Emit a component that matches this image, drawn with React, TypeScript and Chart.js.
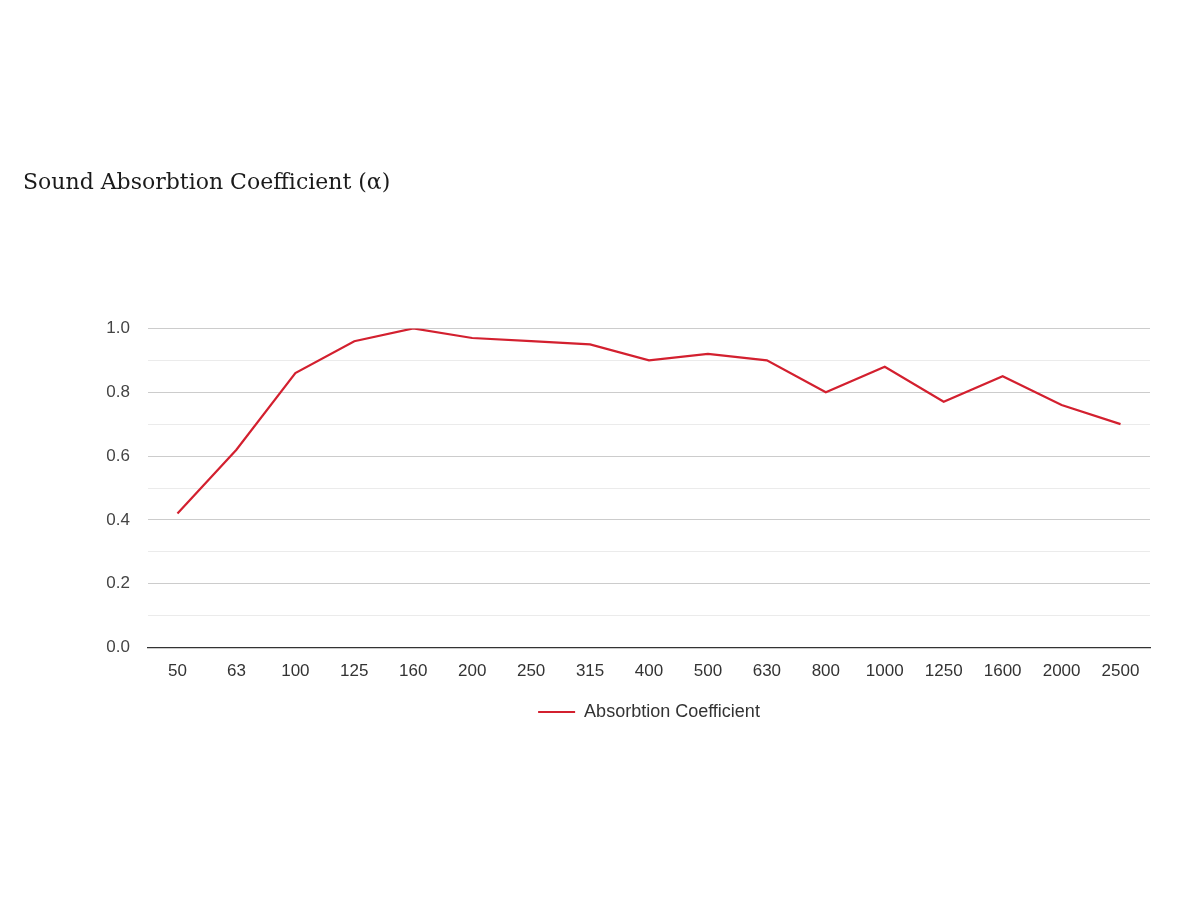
import React, { useEffect, useRef } from "react";
import { Chart, registerables } from "chart.js";

Chart.register(...registerables);

const TITLE = "Sound Absorbtion Coefficient (α)";
const SERIES_LABEL = "Absorbtion Coefficient";
const FREQUENCIES = ["50", "63", "100", "125", "160", "200", "250", "315", "400", "500", "630", "800", "1000", "1250", "1600", "2000", "2500"];
const ABSORPTION = [0.42, 0.62, 0.86, 0.96, 1.0, 0.97, 0.96, 0.95, 0.9, 0.92, 0.9, 0.8, 0.88, 0.77, 0.85, 0.76, 0.7];
const Y_MIN = 0;
const Y_MAX = 1;
const Y_STEP = 0.1;

export default function App() {
  const ref = useRef<HTMLCanvasElement | null>(null);
  useEffect(() => {
    if (!ref.current) return;
    const chart = new Chart(ref.current, {
      type: "line",
      data: {
        labels: FREQUENCIES,
        datasets: [
          {
            label: SERIES_LABEL,
            data: ABSORPTION,
            borderColor: "#d3202f",
            backgroundColor: "#d3202f",
            borderWidth: 2.2,
            pointRadius: 0,
            pointHoverRadius: 0,
            tension: 0,
            pointStyle: "line",
          },
        ],
      },
      options: {
        responsive: false,
        animation: false,
        layout: { padding: { left: 23, right: 50, top: 0, bottom: 169 } },
        plugins: {
          title: {
            display: true,
            text: TITLE,
            align: "start",
            color: "#1a1a1a",
            font: { family: "'DejaVu Serif', 'Liberation Serif', serif", size: 22, weight: "normal" },
            padding: { top: 170, bottom: 132 },
          },
          legend: {
            position: "bottom",
            fullSize: false,
            labels: {
              usePointStyle: true,
              pointStyleWidth: 37,
              color: "#333",
              font: { family: "Liberation Sans", size: 18 },
              padding: 15,
            },
          },
          tooltip: { enabled: false },
        },
        scales: {
          x: {
            offset: true,
            grid: { display: false, offset: true },
            border: { display: true, color: "#333", width: 1.2 },
            ticks: { color: "#333", font: { family: "Liberation Sans", size: 17 }, padding: 6, maxRotation: 0 },
          },
          y: {
            min: Y_MIN,
            max: Y_MAX,
            afterFit: (s: any) => {
              s.width = 125;
            },
            border: { display: false },
            grid: {
              color: (ctx: any) => {
                const v = Math.round((ctx.tick?.value ?? 0) * 10);
                if (v === 0) return "rgba(0,0,0,0)";
                return v % 2 === 0 ? "#cccccc" : "#ebebeb";
              },
              drawTicks: false,
            },
            ticks: {
              stepSize: Y_STEP,
              color: "#444",
              font: { family: "Liberation Sans", size: 17 },
              padding: 18,
              autoSkip: false,
              callback: (v: any) => {
                const n = Math.round(Number(v) * 10);
                return n % 2 === 0 ? (n / 10).toFixed(1) : "";
              },
            },
          },
        },
      },
    });
    return () => chart.destroy();
  }, []);
  return (
    <div style={{ position: "fixed", left: 0, top: 0, width: 1200, height: 900, background: "#fff" }}>
      <canvas ref={ref} width={1200} height={900} style={{ width: 1200, height: 900 }} />
    </div>
  );
}
